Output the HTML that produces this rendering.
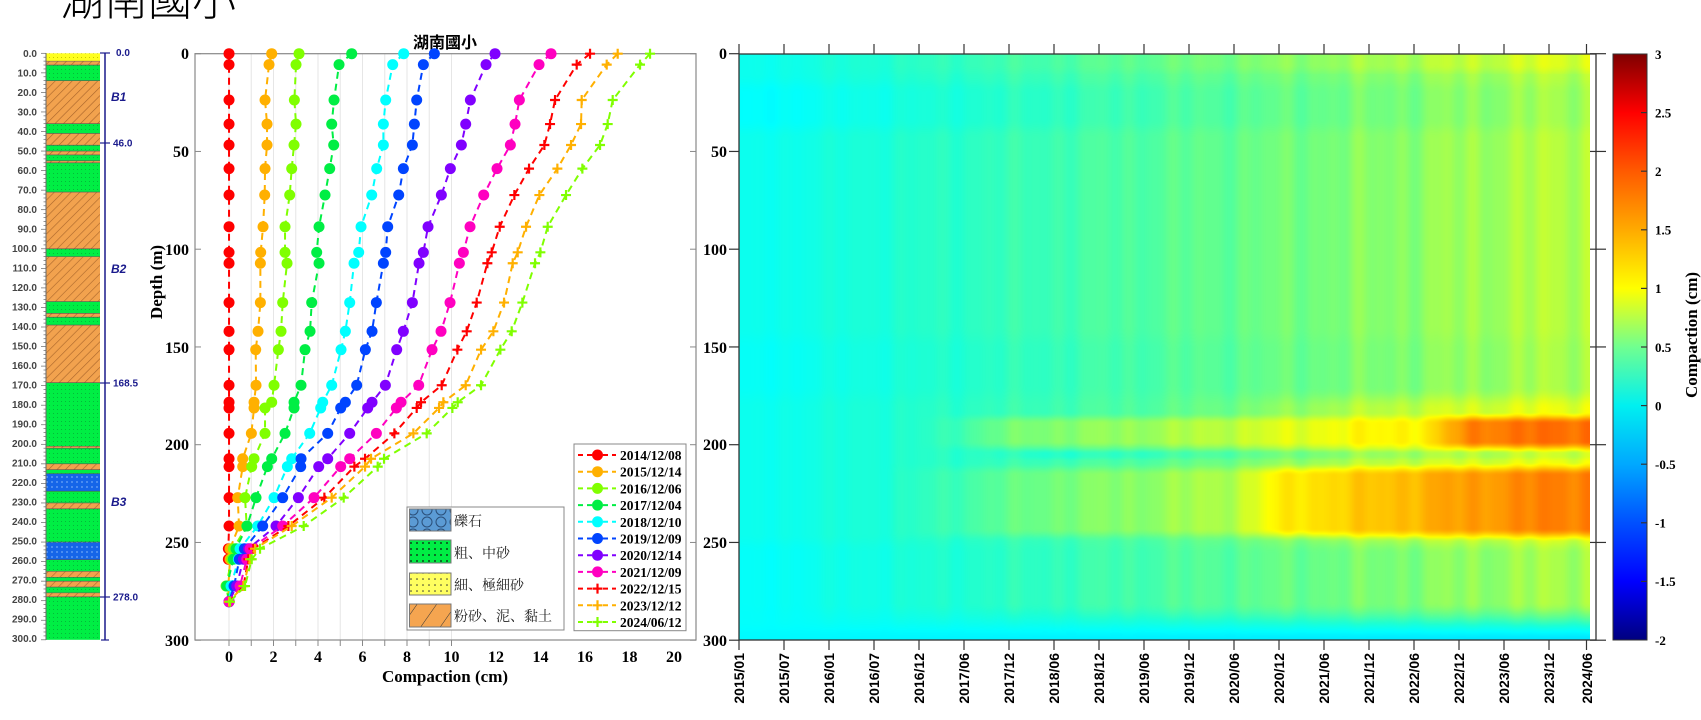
<!DOCTYPE html>
<html><head><meta charset="utf-8"><style>
html,body{margin:0;padding:0;background:#fff;}
svg{display:block}
.ser{font-family:"Liberation Serif","Noto Serif CJK SC",serif;font-weight:bold}
.san{font-family:"Liberation Sans",sans-serif;font-weight:bold}
.cjk{font-family:"Liberation Serif","Noto Serif CJK SC","Noto Sans CJK TC",serif}
</style></head><body>
<div style="position:relative;width:1701px;height:720px;overflow:hidden">
<canvas id="hm" width="851" height="586" style="position:absolute;left:739px;top:54px"></canvas>
<svg id="s" width="1701" height="720" style="position:absolute;left:0;top:0">
<defs>
<pattern id="pO" width="6" height="6" patternUnits="userSpaceOnUse" patternTransform="rotate(45)"><rect width="6" height="6" fill="#f2a24e"/><line x1="0" y1="0" x2="0" y2="6" stroke="#a8642a" stroke-width="1.2"/></pattern>
<pattern id="pG" width="4" height="4" patternUnits="userSpaceOnUse"><rect width="4" height="4" fill="#00ee44"/><rect x="1" y="1" width="1" height="1" fill="#05b83a"/></pattern>
<pattern id="pB" width="5" height="5" patternUnits="userSpaceOnUse"><rect width="5" height="5" fill="#1565e8"/><rect x="1" y="1" width="2" height="2" fill="#4a8cf0"/></pattern>
<pattern id="pY" width="4" height="4" patternUnits="userSpaceOnUse"><rect width="4" height="4" fill="#ffff20"/><rect x="1" y="1" width="1" height="1" fill="#c8c800"/></pattern>
<pattern id="lB" width="14" height="12" patternUnits="userSpaceOnUse"><rect width="14" height="12" fill="#5b9bd5"/><circle cx="7" cy="6" r="5" fill="none" stroke="#2a4f7a" stroke-width="1"/></pattern>
<pattern id="lG" width="6" height="6" patternUnits="userSpaceOnUse"><rect width="6" height="6" fill="#00ee44"/><circle cx="3" cy="3" r="0.9" fill="#111"/></pattern>
<pattern id="lY" width="6" height="6" patternUnits="userSpaceOnUse"><rect width="6" height="6" fill="#ffff60"/><circle cx="3" cy="3" r="0.8" fill="#333"/></pattern>
<pattern id="lO" width="16" height="16" patternUnits="userSpaceOnUse" patternTransform="rotate(35)"><rect width="16" height="16" fill="#f5a550"/><line x1="0" y1="0" x2="0" y2="16" stroke="#333" stroke-width="1"/></pattern>
<linearGradient id="cb" x1="0" y1="1" x2="0" y2="0">
<stop offset="0" stop-color="#00007f"/><stop offset="0.1" stop-color="#0000ff"/><stop offset="0.2" stop-color="#0050ff"/><stop offset="0.3" stop-color="#00a8ff"/><stop offset="0.4" stop-color="#00f0f0"/><stop offset="0.5" stop-color="#70ff90"/><stop offset="0.6" stop-color="#ffff00"/><stop offset="0.7" stop-color="#ffaa00"/><stop offset="0.8" stop-color="#ff5a00"/><stop offset="0.9" stop-color="#ff0000"/><stop offset="1" stop-color="#7f0000"/>
</linearGradient>
</defs>
<text x="60" y="15" font-family="'Noto Sans CJK TC',sans-serif" font-weight="300" font-size="44">湖南國小</text>

<g id="litho"></g>
<g class="san" font-size="10" fill="#444" text-anchor="end">
<text x="37" y="57">0.0</text><text x="37" y="76.5">10.0</text><text x="37" y="96">20.0</text><text x="37" y="115.5">30.0</text><text x="37" y="135">40.0</text><text x="37" y="154.5">50.0</text><text x="37" y="174">60.0</text><text x="37" y="193.5">70.0</text><text x="37" y="213">80.0</text><text x="37" y="232.5">90.0</text><text x="37" y="252">100.0</text><text x="37" y="271.5">110.0</text><text x="37" y="291">120.0</text><text x="37" y="310.5">130.0</text><text x="37" y="330">140.0</text><text x="37" y="349.5">150.0</text><text x="37" y="369">160.0</text><text x="37" y="388.5">170.0</text><text x="37" y="408">180.0</text><text x="37" y="427.5">190.0</text><text x="37" y="447">200.0</text><text x="37" y="466.5">210.0</text><text x="37" y="486">220.0</text><text x="37" y="505.5">230.0</text><text x="37" y="525">240.0</text><text x="37" y="544.5">250.0</text><text x="37" y="564">260.0</text><text x="37" y="583.5">270.0</text><text x="37" y="603">280.0</text><text x="37" y="622.5">290.0</text><text x="37" y="642">300.0</text>
</g>
<g fill="#1a1a8c" stroke="none" class="san" font-size="10" font-weight="normal">
<line x1="105" y1="53" x2="105" y2="640" stroke="#1a1a8c" stroke-width="1.5"/>
<line x1="100" y1="53" x2="110" y2="53" stroke="#1a1a8c" stroke-width="1.2"/>
<line x1="100" y1="143" x2="110" y2="143" stroke="#1a1a8c" stroke-width="1.2"/>
<line x1="100" y1="383" x2="110" y2="383" stroke="#1a1a8c" stroke-width="1.2"/>
<line x1="100" y1="597" x2="110" y2="597" stroke="#1a1a8c" stroke-width="1.2"/>
<line x1="101" y1="640" x2="109" y2="640" stroke="#1a1a8c" stroke-width="1.2"/>
<text x="116" y="56">0.0</text><text x="113" y="146.5">46.0</text><text x="113" y="386.5">168.5</text><text x="113" y="600.5">278.0</text>
<text x="111" y="101" font-weight="bold" font-style="italic" font-size="12">B1</text>
<text x="111" y="273" font-weight="bold" font-style="italic" font-size="12">B2</text>
<text x="111" y="506" font-weight="bold" font-style="italic" font-size="12">B3</text>
</g>

<g id="grid" stroke="#e6e6e6" stroke-width="1"></g>
<rect x="195" y="53.7" width="501" height="586.3" fill="none" stroke="#888" stroke-width="1.2"/>
<text x="445" y="48" text-anchor="middle" font-family="'Noto Sans CJK TC',sans-serif" font-weight="bold" font-size="16">湖南國小</text>
<g class="ser" font-size="16" text-anchor="end">
<text x="189" y="59">0</text><text x="189" y="157">50</text><text x="189" y="255">100</text><text x="189" y="353">150</text><text x="189" y="450">200</text><text x="189" y="548">250</text><text x="189" y="646">300</text>
</g>
<g class="ser" font-size="16" text-anchor="middle" id="xl">
<text x="229" y="662">0</text><text x="273.5" y="662">2</text><text x="318" y="662">4</text><text x="362.5" y="662">6</text><text x="407" y="662">8</text><text x="451.5" y="662">10</text><text x="496" y="662">12</text><text x="540.5" y="662">14</text><text x="585" y="662">16</text><text x="629.5" y="662">18</text><text x="674" y="662">20</text>
</g>
<text class="ser" font-size="17" x="445" y="682" text-anchor="middle">Compaction (cm)</text>
<text class="ser" font-size="17" transform="translate(162,282) rotate(-90)" text-anchor="middle">Depth (m)</text>
<g id="series"></g>

<rect x="407" y="507" width="157" height="123" fill="#fff" stroke="#888"/>
<rect x="409.5" y="509" width="41.5" height="22" fill="url(#lB)" stroke="#777"/>
<rect x="409.5" y="540" width="41.5" height="23" fill="url(#lG)" stroke="#777"/>
<rect x="409.5" y="573" width="41.5" height="22" fill="url(#lY)" stroke="#777"/>
<rect x="409.5" y="604" width="41.5" height="23" fill="url(#lO)" stroke="#777"/>
<g class="cjk" font-size="14" font-weight="normal" fill="#222">
<text x="454" y="526">礫石</text>
<text x="454" y="558">粗、中砂</text>
<text x="454" y="590">細、極細砂</text>
<text x="454" y="621">粉砂、泥、黏土</text>
</g>
<rect x="574" y="444" width="112" height="186.7" fill="#fff" stroke="#888"/>
<g id="leg"></g>
<g class="ser" font-size="13.5">
<text x="620" y="460">2014/12/08</text><text x="620" y="476.7">2015/12/14</text><text x="620" y="493.4">2016/12/06</text><text x="620" y="510.1">2017/12/04</text><text x="620" y="526.8">2018/12/10</text><text x="620" y="543.5">2019/12/09</text><text x="620" y="560.2">2020/12/14</text><text x="620" y="576.9">2021/12/09</text><text x="620" y="593.6">2022/12/15</text><text x="620" y="610.3">2023/12/12</text><text x="620" y="627">2024/06/12</text>
</g>

<rect x="1590" y="54" width="6" height="586" fill="#fff"/>
<rect x="739" y="54" width="857" height="586" fill="none" stroke="#333" stroke-width="1.3"/>
<g id="hticks" stroke="#333" stroke-width="1.2"></g>
<g class="ser" font-size="16" text-anchor="end">
<text x="727" y="59">0</text><text x="727" y="157">50</text><text x="727" y="255">100</text><text x="727" y="353">150</text><text x="727" y="450">200</text><text x="727" y="548">250</text><text x="727" y="646">300</text>
</g>
<g class="san" font-size="14" text-anchor="end">
<text transform="translate(744,653) rotate(-90)">2015/01</text>
<text transform="translate(789,653) rotate(-90)">2015/07</text>
<text transform="translate(834,653) rotate(-90)">2016/01</text>
<text transform="translate(879,653) rotate(-90)">2016/07</text>
<text transform="translate(924,653) rotate(-90)">2016/12</text>
<text transform="translate(969,653) rotate(-90)">2017/06</text>
<text transform="translate(1014,653) rotate(-90)">2017/12</text>
<text transform="translate(1059,653) rotate(-90)">2018/06</text>
<text transform="translate(1104,653) rotate(-90)">2018/12</text>
<text transform="translate(1149,653) rotate(-90)">2019/06</text>
<text transform="translate(1194,653) rotate(-90)">2019/12</text>
<text transform="translate(1239,653) rotate(-90)">2020/06</text>
<text transform="translate(1284,653) rotate(-90)">2020/12</text>
<text transform="translate(1329,653) rotate(-90)">2021/06</text>
<text transform="translate(1374,653) rotate(-90)">2021/12</text>
<text transform="translate(1419,653) rotate(-90)">2022/06</text>
<text transform="translate(1464,653) rotate(-90)">2022/12</text>
<text transform="translate(1509,653) rotate(-90)">2023/06</text>
<text transform="translate(1554,653) rotate(-90)">2023/12</text>
<text transform="translate(1592,653) rotate(-90)">2024/06</text>
</g>
<rect x="1613" y="54" width="34" height="586" fill="url(#cb)" stroke="#333" stroke-width="1"/>
<g stroke="#333" stroke-width="1.2">
<line x1="1641" y1="112.6" x2="1647" y2="112.6"/><line x1="1641" y1="171.2" x2="1647" y2="171.2"/><line x1="1641" y1="229.8" x2="1647" y2="229.8"/><line x1="1641" y1="288.4" x2="1647" y2="288.4"/><line x1="1641" y1="347" x2="1647" y2="347"/><line x1="1641" y1="405.6" x2="1647" y2="405.6"/><line x1="1641" y1="464.2" x2="1647" y2="464.2"/><line x1="1641" y1="522.8" x2="1647" y2="522.8"/><line x1="1641" y1="581.4" x2="1647" y2="581.4"/>
</g>
<g class="ser" font-size="13">
<text x="1655" y="59">3</text><text x="1655" y="117.5">2.5</text><text x="1655" y="176">2</text><text x="1655" y="234.5">1.5</text><text x="1655" y="293">1</text><text x="1655" y="352">0.5</text><text x="1655" y="410.5">0</text><text x="1655" y="469">-0.5</text><text x="1655" y="527.5">-1</text><text x="1655" y="586">-1.5</text><text x="1655" y="645">-2</text>
</g>
<text class="ser" font-size="17" transform="translate(1697,335) rotate(-90)" text-anchor="middle">Compaction (cm)</text>
</svg>
</div>
<script>
var NS="http://www.w3.org/2000/svg";
function el(p,t,a){var e=document.createElementNS(NS,t);for(var k in a)e.setAttribute(k,a[k]);p.appendChild(e);return e;}
var L=[[0,4,'pY'],[4,6,'pO'],[6,14,'pG'],[14,36,'pO'],[36,41,'pG'],[41,47,'pO'],[47,50,'pG'],[50,52,'pO'],[52,55,'pG'],[55,56,'pO'],[56,71,'pG'],[71,100,'pO'],[100,104,'pG'],[104,127,'pO'],[127,133,'pG'],[133,135,'pO'],[135,139,'pG'],[139,168.5,'pO'],[168.5,201,'pG'],[201,202,'pO'],[202,210,'pG'],[210,213,'pO'],[213,215,'pG'],[215,224,'pB'],[224,230,'pG'],[230,233,'pO'],[233,250,'pG'],[250,259,'pB'],[259,265,'pG'],[265,268,'pO'],[268,270,'pG'],[270,273,'pO'],[273,276,'pG'],[276,278,'pO'],[278,300,'pG']];
var lg=document.getElementById('litho');
function ly(d){return 53.3+d*1.955;}
L.forEach(function(l){el(lg,'rect',{x:46.5,y:ly(l[0]),width:53.5,height:ly(l[1])-ly(l[0]),fill:'url(#'+l[2]+')'});
 if(l[0]>0) el(lg,'line',{x1:46.5,x2:100,y1:ly(l[0]),y2:ly(l[0]),stroke:'#555','stroke-width':0.6});});
el(lg,'line',{x1:46,x2:46,y1:53,y2:640,stroke:'#666','stroke-width':1});
for(var d=0;d<=300;d+=2){el(lg,'line',{x1:d%10==0?41:43.5,x2:46,y1:ly(d),y2:ly(d),stroke:'#666','stroke-width':0.7});}
var g=document.getElementById('grid');
for(var i=0;i<=10;i++){var x=229+i*22.25;el(g,'line',{x1:x,x2:x,y1:54,y2:640});
 el(g,'line',{x1:x,x2:x,y1:640,y2:646,stroke:'#888'});}
[0,50,100,150,200,250,300].forEach(function(v){var y=53.7+v*1.955;el(g,'line',{x1:195,x2:201,y1:y,y2:y,stroke:'#888'});el(g,'line',{x1:690,x2:696,y1:y,y2:y,stroke:'#888'});});
var D=[0,5.6,23.7,36,46.7,58.8,72.3,88.5,101.6,107.2,127.3,142,151.4,169.6,178.3,181.2,194.2,207.2,211.2,227.1,241.6,253.2,258.6,272.3,280.3];
var S=[
['#ff0000',0,[292,292,292,292,292,292,292,292,292,292,292,292,292,292,292,292,292,292,292,292,292,290,290,295,292]],
['#ffb000',0,[420,412,400,406,406,400,399,394,387,386,386,379,372,373,367,367,359,333,333,318,322,295,295,290,292]],
['#80ff00',0,[502,493,488,493,487,480,474,460,460,466,453,448,440,427,420,400,400,367,360,340,345,305,300,283,292]],
['#00ee44',0,[660,622,607,600,606,594,580,562,555,562,540,535,520,508,487,487,460,420,407,373,346,313,305,285,292]],
['#00ffff',0,[816,783,762,755,755,735,720,688,681,667,654,641,628,600,573,567,534,480,467,427,378,325,320,298,292]],
['#0044ff',0,[908,875,855,848,842,815,801,768,762,755,734,721,701,675,641,627,588,508,507,453,393,338,323,307,292]],
['#8000ff',0,[1090,1063,1016,1002,989,956,929,889,875,862,842,815,795,761,721,708,654,588,561,500,433,350,335,315,292]],
['#ff00c0',0,[1258,1222,1163,1150,1136,1096,1056,1015,995,983,955,928,901,861,808,794,734,654,627,547,453,355,345,325,292]],
['#ff0000',1,[1375,1335,1270,1255,1238,1192,1148,1104,1080,1067,1035,1005,977,930,868,855,788,700,668,578,470,365,350,335,292]],
['#ffb000',1,[1458,1425,1350,1348,1318,1277,1223,1183,1158,1143,1117,1085,1048,1002,935,922,845,718,700,600,480,370,355,335,292]],
['#80ff00',1,[1555,1525,1443,1428,1405,1352,1303,1248,1226,1210,1172,1140,1106,1048,978,962,885,757,738,636,516,385,360,340,295]]];
var sg=document.getElementById('series');
function mk(p,x,y,c,plus,r){ if(plus){el(p,'path',{d:'M'+(x-5)+' '+y+'h10M'+x+' '+(y-5)+'v10',stroke:c,'stroke-width':2.2});}
 else el(p,'circle',{cx:x,cy:y,r:r||5.5,fill:c});}
S.forEach(function(s){var pts=s[2].map(function(px,k){return [130+px/3+1.7,53.7+D[k]*1.955];});
 el(sg,'polyline',{points:pts.map(function(p){return p.join(',')}).join(' '),fill:'none',stroke:s[0],'stroke-width':2,'stroke-dasharray':'7,5'});
 pts.forEach(function(p){mk(sg,p[0],p[1],s[0],s[1]);});});
var lgd=document.getElementById('leg');
S.forEach(function(s,i){var y=455+i*16.7;
 el(lgd,'line',{x1:578,x2:592,y1:y,y2:y,stroke:s[0],'stroke-width':2,'stroke-dasharray':'5,4'});
 el(lgd,'line',{x1:603,x2:616,y1:y,y2:y,stroke:s[0],'stroke-width':2,'stroke-dasharray':'5,4'});
 mk(lgd,597.5,y,s[0],s[1],5.5);});
var ht=document.getElementById('hticks');
var tx=[];for(var k=0;k<19;k++)tx.push(739+k*45);tx.push(1586.5);
tx.forEach(function(x){el(ht,'line',{x1:x,x2:x,y1:44,y2:54});el(ht,'line',{x1:x,x2:x,y1:640,y2:650});});
[0,50,100,150,200,250,300].forEach(function(v){var y=53.7+v*1.955;el(ht,'line',{x1:729,x2:739,y1:y,y2:y});el(ht,'line',{x1:1590,x2:1606,y1:y,y2:y});});
(function(){
var c=document.getElementById('hm'),ctx=c.getContext('2d'),W=851,H=586;
var img=ctx.createImageData(W,H),dt=img.data;
var cs=[[-2,0,0,128],[-1.5,0,0,255],[-1,0,80,255],[-0.5,0,168,255],[-0.1,0,255,255],[0.1,30,255,210],[0.5,120,255,120],[1,255,255,0],[1.5,255,170,0],[2,255,90,0],[2.5,255,0,0],[3,128,0,0]];
function col(v){if(v<=cs[0][0])return cs[0].slice(1);for(var i=1;i<cs.length;i++){if(v<=cs[i][0]){var a=cs[i-1],b=cs[i],f=(v-a[0])/(b[0]-a[0]);return [a[1]+(b[1]-a[1])*f,a[2]+(b[2]-a[2])*f,a[3]+(b[3]-a[3])*f];}}return cs[cs.length-1].slice(1);}
function ss(a,b,x){var t=Math.max(0,Math.min(1,(x-a)/(b-a)));return t*t*(3-2*t);}
function band(d,a,b,w){return ss(a-w,a+w,d)*(1-ss(b-w,b+w,d));}
var noise=[];for(var x=0;x<W;x++){var t=x/W;noise.push(0.035*Math.sin(t*140)+0.03*Math.sin(t*61+1)+0.025*Math.sin(t*233+2));}
for(var y=0;y<H;y++){var d=y/H*300;
 for(var x=0;x<W;x++){var t=x/W;
  var v=-0.05+0.8*t+noise[x]*(0.4+t);
  if(d<10)v+=0.15*t*(1-ss(5,12,d));
  v-=0.07*band(d,15,38,5);
  v-=0.04*band(d,145,175,6);
  v+=0.2*band(d,176,250,6)*ss(0.45,0.8,t);
  v+=band(d,186,201,3)*(0.3*ss(0.2,0.35,t)+0.65*ss(0.8,0.87,t));
  v-=0.12*band(d,203,207,1.5)*ss(0.25,0.4,t);
  v+=band(d,212,246,3.5)*(0.25*ss(0.15,0.4,t)+0.3*ss(0.57,0.66,t)+0.3*ss(0.66,1,t));
  v-=0.05*band(d,250,290,5);
  var w=ss(280,300,d);v=v*(1-w)+(-0.12-0.1*t)*w;
  var cc=col(v),o=(y*W+x)*4;dt[o]=cc[0];dt[o+1]=cc[1];dt[o+2]=cc[2];dt[o+3]=255;}}
ctx.putImageData(img,0,0);
})();
</script>
</body></html>
